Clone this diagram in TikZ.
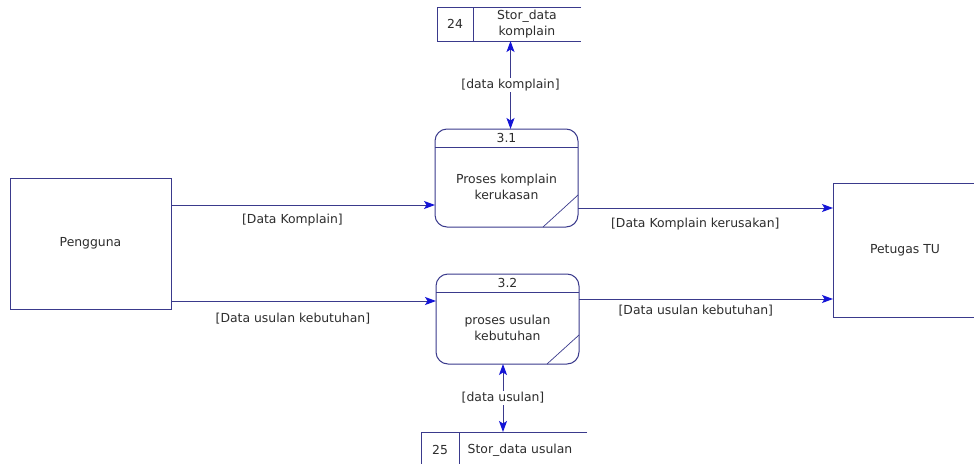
\documentclass[tikz,border=0pt]{standalone}
\usepackage{fontspec}
\setmainfont{DejaVu Sans}
\usepackage{xcolor}
\usetikzlibrary{arrows.meta}

\definecolor{garis}{RGB}{58,58,140}
\definecolor{panah}{RGB}{20,20,215}
\definecolor{teks}{RGB}{45,45,45}

\begin{document}
\begin{tikzpicture}[
            x = 1pt, y = -1pt, % one unit per pixel, y going down
            > = {Stealth[length=11pt,width=8pt,inset=2.5pt,color=panah]}, % arrow head style
            line width = 1pt,
            font = \fontsize{12.4}{16}\selectfont,
            entitas/.style = {draw=garis, outer sep=0pt, inner sep=0pt},
            proses/.style = {draw=garis, rounded corners=12pt, outer sep=0pt, inner sep=0pt},
            simpan/.style = {outer sep=0pt, inner sep=0pt},
            arus/.style = {draw=garis, ->},
            arus2/.style = {draw=garis, <->},
            lbl/.style = {text=teks, inner sep=1pt, align=center}
        ]
\useasboundingbox (0,0) rectangle (974,463);
\fill[white] (0,0) rectangle (974,463);
\clip (0,0) rectangle (974,463);

% external entities
\node[entitas, minimum width=161pt, minimum height=131pt] (peng) at (90.5,243.5) {};
\node[lbl] at (peng.center) {Pengguna};
\node[entitas, minimum width=144pt, minimum height=134pt] (tu) at (905,250) {};
\node[lbl] at (tu.center) {Petugas TU};

% processes
\node[proses, minimum width=143pt, minimum height=98pt] (p31) at (506.5,178) {};
\draw[garis] ([yshift=-18pt]p31.north west) -- ([yshift=-18pt]p31.north east);
\draw[garis, line width=0.7pt] ([xshift=-35pt]p31.south east) -- ([yshift=32pt]p31.south east);
\node[lbl] at ([yshift=-9pt]p31.north) {3.1};
\node[lbl] at ([yshift=-9pt]p31.center) {Proses komplain\\kerukasan};

\node[proses, minimum width=143pt, minimum height=90pt] (p32) at (507.5,319) {};
\draw[garis] ([yshift=-18pt]p32.north west) -- ([yshift=-18pt]p32.north east);
\draw[garis, line width=0.7pt] ([xshift=-32pt]p32.south east) -- ([yshift=29pt]p32.south east);
\node[lbl] at ([yshift=-9pt]p32.north) {3.2};
\node[lbl] at ([yshift=-9pt]p32.center) {proses usulan\\kebutuhan};

% data stores
\node[simpan, minimum width=144pt, minimum height=34pt] (s24) at (509,24) {};
\draw[garis] (s24.north east) -- (s24.north west) -- (s24.south west) -- (s24.south east);
\draw[garis] ([xshift=36pt]s24.north west) -- ([xshift=36pt]s24.south west);
\node[lbl] at (455,24) {24};
\node[lbl] at (527,24) {Stor\_data\\komplain};

\node[simpan, minimum width=166pt, minimum height=34pt] (s25) at (504,449) {};
\draw[garis] (s25.north east) -- (s25.north west) -- (s25.south west) -- (s25.south east);
\draw[garis] ([xshift=38pt]s25.north west) -- ([xshift=38pt]s25.south west);
\node[lbl] at (440,450) {25};
\node[lbl] at (520,450) {Stor\_data usulan};

% flows
\coordinate (a1) at ([yshift=-27pt]peng.north east);
\coordinate (a2) at ([yshift=-123pt]peng.north east);
\coordinate (b1) at ([yshift=-79pt]p31.north east);
\coordinate (b2) at ([yshift=-25pt]p32.north east);
\coordinate (c1) at ([xshift=1.5pt]s24.south);
\coordinate (c2) at ([xshift=-4.5pt]p32.south);

\path[arus] (a1) -- (a1 -| p31.west) node[lbl, pos=0.46, below=8pt] {[Data Komplain]};
\path[arus] (a2) -- (a2 -| p32.west) node[lbl, pos=0.46, below=11pt] {[Data usulan kebutuhan]};
\path[arus] (b1) -- (b1 -| tu.west) node[lbl, pos=0.46, below=9pt] {[Data Komplain kerusakan]};
\path[arus] (b2) -- (b2 -| tu.west) node[lbl, pos=0.46, below=5pt] {[Data usulan kebutuhan]};
\path[arus2] (c1) -- (c1 |- p31.north) node[lbl, midway, fill=white] {[data komplain]};
\path[arus2] (c2) -- (c2 |- s25.north) node[lbl, midway, fill=white] {[data usulan]};
\end{tikzpicture}
\end{document}
